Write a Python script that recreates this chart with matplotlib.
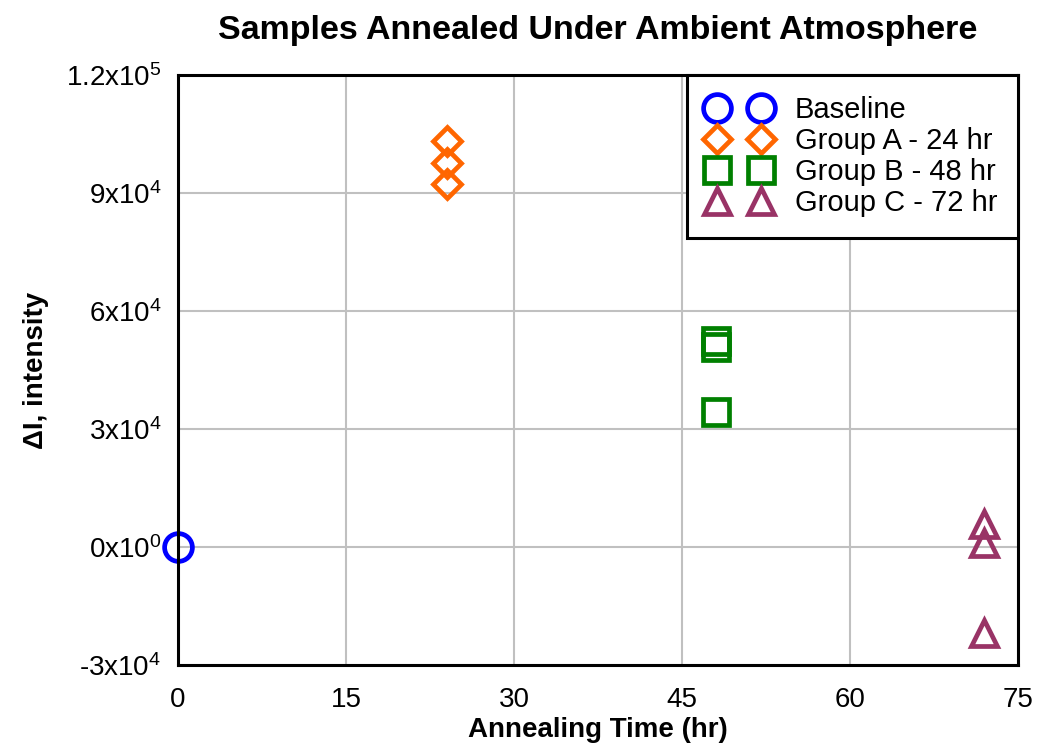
import matplotlib
matplotlib.use("Agg")
import matplotlib.pyplot as plt

plt.rcParams['font.family'] = ['Liberation Sans', 'DejaVu Sans']
plt.rcParams['mathtext.fontset'] = 'custom'
plt.rcParams['mathtext.rm'] = 'Liberation Sans'
plt.rcParams['mathtext.default'] = 'regular'

# annealing time (hr) and intensity change for each group
base_t = [0]
base_di = [0]
a_t = [24, 24, 24]
a_di = [103200, 97600, 92300]
b_t = [48, 48, 48]
b_di = [52400, 50800, 34300]
c_t = [72, 72, 72]
c_di = [5900, 1000, -21900]

xticks = [0, 15, 30, 45, 60, 75]
yticks = [-30000, 0, 30000, 60000, 90000, 120000]
ylabels = ['-3x10$^{4}$', '0x10$^{0}$', '3x10$^{4}$', '6x10$^{4}$',
           '9x10$^{4}$', '1.2x10$^{5}$']

fig = plt.figure(figsize=(10.37, 7.44), dpi=100)
ax = fig.add_axes([0.1717, 0.1062, 0.81, 0.793])

mew = 3.4
ax.plot(base_t, base_di, 'o', ms=20, mfc='none', mec='#0000ff', mew=mew,
        clip_on=False, label='Baseline', zorder=2)
ax.plot(a_t, a_di, 'D', ms=14, mfc='none', mec='#ff6600', mew=mew,
        clip_on=False, label='Group A - 24 hr', zorder=2)
ax.plot(b_t, b_di, 's', ms=19, mfc='none', mec='#008000', mew=mew,
        clip_on=False, label='Group B - 48 hr', zorder=2)
ax.plot(c_t, c_di, '^', ms=19, mfc='none', mec='#993366', mew=mew,
        clip_on=False, label='Group C - 72 hr', zorder=2)

ax.set_xlim(0, 75)
ax.set_ylim(-30000, 120000)
ax.set_xticks(xticks)
ax.set_yticks(yticks)
ax.set_yticklabels(ylabels)
ax.tick_params(axis='x', length=0, labelsize=20, pad=16)
ax.tick_params(axis='y', length=0, labelsize=20, pad=12)
ax.grid(True, color='#c0c0c0', lw=1.5)
ax.set_axisbelow(True)
for s in ax.spines.values():
    s.set_linewidth(2.2)
    s.set_zorder(3)

ax.set_xlabel('Annealing Time (hr)', fontsize=20, fontweight='bold', labelpad=3)
ax.set_ylabel('ΔI, intensity', fontsize=20, fontweight='bold', labelpad=12)
ax.set_title('Samples Annealed Under Ambient Atmosphere', fontsize=24.5,
             fontweight='bold', pad=26)

leg = ax.legend(loc='upper right', numpoints=2, fontsize=21, fancybox=False,
                borderaxespad=0, labelspacing=0.1, handletextpad=0.85,
                handlelength=2.1, borderpad=0.72, framealpha=1)
leg.get_frame().set_edgecolor('black')
leg.get_frame().set_linewidth(2.2)

fig.savefig('out.png', dpi=100)
